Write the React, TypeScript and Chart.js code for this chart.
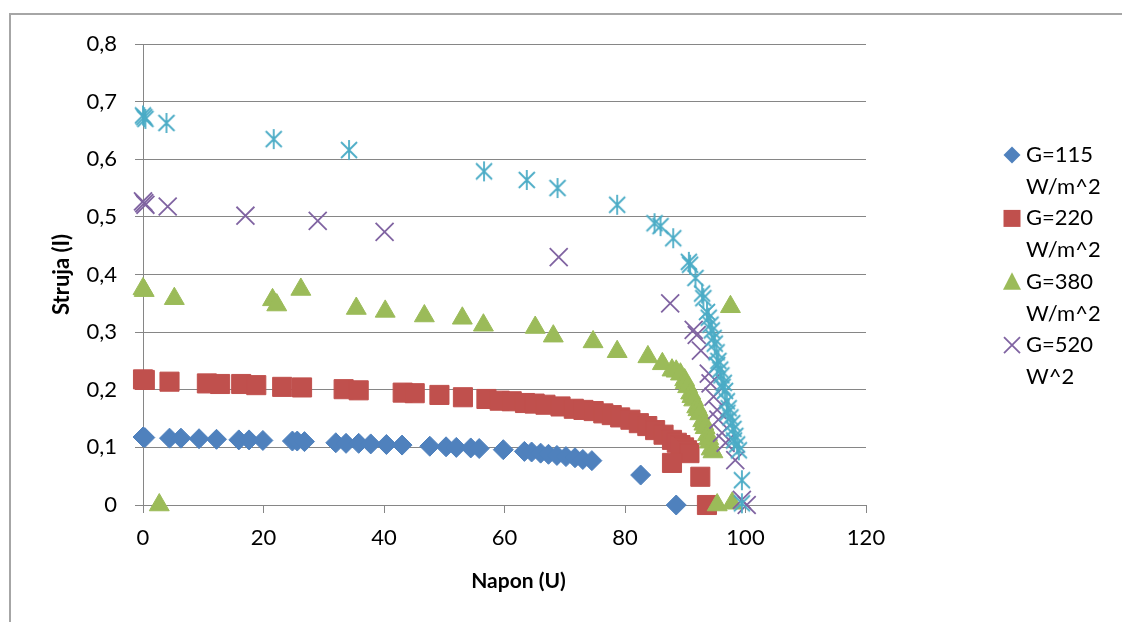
import React, { useEffect, useRef } from 'react';
import { Chart, registerables } from 'chart.js';

Chart.register(...registerables);

// ---- Data (Napon U, Struja I) ----
const g115X = [0, 0.3, 4.4, 6.3, 9.3, 12.2, 15.9, 17.6, 19.9, 24.8, 25.6, 26.8, 32.0, 33.7, 35.8, 37.8, 40.4, 43.0, 47.6, 50.3, 52.0, 54.4, 55.8, 59.8, 63.3, 64.5, 66.0, 67.3, 68.7, 70.2, 71.7, 73.0, 74.5, 82.6, 88.5];
const g115Y = [0.118, 0.117, 0.116, 0.116, 0.115, 0.114, 0.113, 0.113, 0.112, 0.111, 0.111, 0.110, 0.108, 0.107, 0.107, 0.106, 0.105, 0.104, 0.102, 0.101, 0.100, 0.099, 0.098, 0.096, 0.093, 0.092, 0.090, 0.088, 0.086, 0.084, 0.082, 0.079, 0.077, 0.052, 0.0];

const g220X = [0, 0.3, 4.4, 10.6, 12.8, 16.3, 18.8, 23.1, 26.4, 33.3, 35.8, 43.1, 45.1, 49.2, 53.1, 57.0, 59.2, 61.2, 63.4, 65.0, 66.8, 69.3, 71.5, 73.1, 74.8, 76.4, 77.8, 79.2, 80.9, 82.3, 83.7, 85.0, 86.4, 87.8, 88.6, 89.2, 89.8, 90.3, 90.7, 87.8, 92.5, 93.6];
const g220Y = [0.218, 0.217, 0.214, 0.211, 0.210, 0.210, 0.208, 0.205, 0.204, 0.201, 0.199, 0.195, 0.194, 0.191, 0.187, 0.184, 0.181, 0.180, 0.177, 0.176, 0.174, 0.171, 0.167, 0.165, 0.163, 0.159, 0.156, 0.152, 0.148, 0.142, 0.137, 0.130, 0.122, 0.113, 0.108, 0.104, 0.100, 0.095, 0.090, 0.073, 0.049, 0.0];

const g380X = [0, 0.2, 5.2, 21.5, 22.2, 26.2, 35.4, 40.2, 46.7, 53.0, 56.5, 65.1, 68.1, 74.7, 78.7, 83.8, 86.2, 87.8, 88.5, 89.2, 89.9, 90.0, 90.4, 90.9, 91.1, 91.4, 91.9, 92.1, 92.4, 92.9, 93.1, 93.3, 93.7, 93.9, 94.0, 94.3, 94.6, 97.5, 2.7, 95.3, 97.8];
const g380Y = [0.375, 0.372, 0.358, 0.356, 0.347, 0.374, 0.341, 0.336, 0.328, 0.324, 0.312, 0.308, 0.293, 0.283, 0.266, 0.257, 0.245, 0.234, 0.232, 0.227, 0.217, 0.212, 0.205, 0.194, 0.188, 0.182, 0.170, 0.165, 0.158, 0.146, 0.140, 0.134, 0.122, 0.115, 0.109, 0.097, 0.092, 0.344, 0.0, 0.0, 0.003];

const g520X = [0, 0.2, 0.4, 4.1, 17.0, 29.0, 40.1, 69.0, 87.5, 91.4, 91.9, 92.6, 93.9, 94.2, 94.7, 95.3, 95.5, 96.1, 96.7, 98.3, 99.4, 100.2];
const g520Y = [0.527, 0.524, 0.521, 0.518, 0.502, 0.493, 0.474, 0.430, 0.350, 0.304, 0.295, 0.268, 0.228, 0.211, 0.188, 0.165, 0.148, 0.125, 0.108, 0.078, 0.009, 0.0];

const g5X = [0, 0.2, 0.4, 3.9, 21.7, 34.2, 56.6, 63.7, 68.8, 78.7, 84.9, 85.9, 88.0, 90.6, 90.8, 91.7, 92.8, 93.0, 93.6, 93.9, 94.2, 94.4, 94.7, 94.9, 95.2, 95.5, 95.3, 95.8, 96.0, 96.4, 96.2, 96.6, 96.9, 97.2, 97.0, 97.5, 97.8, 98.0, 98.3, 98.1, 98.6, 98.9, 99.4, 99.4];
const g5Y = [0.676, 0.673, 0.670, 0.663, 0.635, 0.616, 0.579, 0.564, 0.550, 0.521, 0.489, 0.484, 0.463, 0.422, 0.417, 0.394, 0.367, 0.359, 0.335, 0.325, 0.313, 0.303, 0.290, 0.280, 0.265, 0.250, 0.243, 0.235, 0.225, 0.212, 0.205, 0.198, 0.180, 0.168, 0.160, 0.152, 0.142, 0.132, 0.120, 0.112, 0.105, 0.095, 0.043, 0.003];

const seriesNames = ['G=115 W/m^2', 'G=220 W/m^2', 'G=380 W/m^2', 'G=520 W^2', 'G'];
const legendLines = [['G=115', 'W/m^2'], ['G=220', 'W/m^2'], ['G=380', 'W/m^2'], ['G=520', 'W^2']];
const colors = ['#4F81BD', '#C0504D', '#9BBB59', '#8064A2', '#4BACC6'];
const xTitle = 'Napon (U)';
const yTitle = 'Struja (I)';

const xMin = 0, xMax = 120, xStep = 20;
const yMin = 0, yMax = 0.8, yStep = 0.1;

const FONT = "Lato, 'Liberation Sans', sans-serif";

function toPts(xs: number[], ys: number[]) {
  return xs.map((x, i) => ({ x, y: ys[i] }));
}

function makeStar(color: string) {
  const c = document.createElement('canvas');
  c.width = 22; c.height = 22;
  const g = c.getContext('2d')!;
  g.strokeStyle = color;
  g.lineWidth = 1.8;
  g.beginPath();
  g.moveTo(3, 3); g.lineTo(19, 19);
  g.moveTo(19, 3); g.lineTo(3, 19);
  g.moveTo(11, 1); g.lineTo(11, 21);
  g.stroke();
  return c;
}

function drawLegendMarker(ctx: CanvasRenderingContext2D, kind: number, x: number, y: number, color: string) {
  ctx.save();
  ctx.fillStyle = color;
  ctx.strokeStyle = color;
  ctx.beginPath();
  if (kind === 0) {
    const r = 8.5;
    ctx.moveTo(x, y - r); ctx.lineTo(x + r, y); ctx.lineTo(x, y + r); ctx.lineTo(x - r, y); ctx.closePath();
    ctx.fill();
  } else if (kind === 1) {
    ctx.rect(x - 8.5, y - 8.5, 17, 17);
    ctx.fill();
  } else if (kind === 2) {
    ctx.moveTo(x, y - 9.5); ctx.lineTo(x + 9, y + 8); ctx.lineTo(x - 9, y + 8); ctx.closePath();
    ctx.fill();
  } else {
    ctx.lineWidth = 1.8;
    const r = 8;
    ctx.moveTo(x - r, y - r); ctx.lineTo(x + r, y + r);
    ctx.moveTo(x + r, y - r); ctx.lineTo(x - r, y + r);
    ctx.stroke();
  }
  ctx.restore();
}

const sideLegend = {
  id: 'sideLegend',
  afterDraw(chart: any) {
    const ctx: CanvasRenderingContext2D = chart.ctx;
    const startY = 155;
    const step = 31.7;
    ctx.save();
    ctx.font = `22px ${FONT}`;
    ctx.fillStyle = '#000';
    ctx.textBaseline = 'middle';
    ctx.textAlign = 'left';
    legendLines.forEach((lines, i) => {
      const y = startY + i * 2 * step;
      drawLegendMarker(ctx, i, 1012, y, colors[i]);
      lines.forEach((t, j) => ctx.fillText(t, 1026, y + j * step));
    });
    // x axis title (slightly right of the plot centre, as in the original)
    const area = chart.chartArea;
    ctx.font = `bold 21px ${FONT}`;
    ctx.textAlign = 'center';
    ctx.fillText(xTitle, (area.left + area.right) / 2 + 14, 581);
    ctx.restore();
  },
};

export default function App() {
  const ref = useRef<HTMLCanvasElement>(null);

  useEffect(() => {
    if (!ref.current) return;
    Chart.defaults.font.family = FONT;
    const star = makeStar(colors[4]);
    const chart = new Chart(ref.current, {
      type: 'scatter',
      data: {
        datasets: [
          { label: seriesNames[0], data: toPts(g115X, g115Y), pointStyle: 'rectRot', pointRadius: 10, backgroundColor: colors[0], borderColor: colors[0], borderWidth: 1, order: 5, clip: false },
          { label: seriesNames[1], data: toPts(g220X, g220Y), pointStyle: 'rect', pointRadius: 13.5, backgroundColor: colors[1], borderColor: colors[1], borderWidth: 1, order: 4, clip: false },
          { label: seriesNames[2], data: toPts(g380X, g380Y), pointStyle: 'triangle', pointRadius: 11.5, backgroundColor: colors[2], borderColor: colors[2], borderWidth: 1, order: 3, clip: false },
          { label: seriesNames[3], data: toPts(g520X, g520Y), pointStyle: 'crossRot', pointRadius: 12.7, backgroundColor: colors[3], borderColor: colors[3], borderWidth: 1.8, order: 2, clip: false },
          { label: seriesNames[4], data: toPts(g5X, g5Y), pointStyle: star as any, pointRadius: 11, backgroundColor: colors[4], borderColor: colors[4], order: 1, clip: false },
        ] as any,
      },
      options: {
        animation: false,
        responsive: false,
        maintainAspectRatio: false,
        devicePixelRatio: 1,
        layout: { padding: { left: 0, right: 256, top: 44, bottom: 0 } },
        plugins: { legend: { display: false }, tooltip: { enabled: false } },
        scales: {
          x: {
            type: 'linear',
            min: xMin,
            max: xMax,
            ticks: {
              stepSize: xStep,
              color: '#000',
              font: { size: 22, family: FONT },
              padding: 12,
              maxRotation: 0,
            },
            grid: { drawOnChartArea: false, drawTicks: true, tickLength: 8, color: '#868686', lineWidth: 1 },
            border: { color: '#868686', width: 1 },
            title: { display: false, text: xTitle },
            afterFit: (s: any) => { s.height = 117; },
          },
          y: {
            type: 'linear',
            min: yMin,
            max: yMax,
            ticks: {
              stepSize: yStep,
              color: '#000',
              font: { size: 22, family: FONT },
              padding: 18,
              callback: (v: any) => {
                const r = Math.round(Number(v) * 10) / 10;
                return r === 0 ? '0' : String(r).replace('.', ',');
              },
            },
            grid: { drawOnChartArea: true, drawTicks: true, tickLength: 8, color: '#868686', lineWidth: 1 },
            border: { color: '#868686', width: 1 },
            title: { display: true, text: yTitle, color: '#000', font: { size: 22, weight: 'bold', family: FONT }, padding: { top: 49, bottom: 0 } },
            afterFit: (s: any) => { s.width = 143; },
          },
        },
      } as any,
      plugins: [sideLegend],
    });
    return () => chart.destroy();
  }, []);

  return (
    <div style={{ position: 'fixed', left: 0, top: 0, width: 1122, height: 622, background: '#fff', overflow: 'hidden' }}>
      <div style={{ position: 'absolute', left: 9, top: 13, width: 1200, height: 700, borderLeft: '2px solid #a6a6a6', borderTop: '2px solid #a6a6a6' }} />
      <canvas ref={ref} width={1122} height={622} style={{ position: 'absolute', left: 0, top: 0 }} />
    </div>
  );
}
